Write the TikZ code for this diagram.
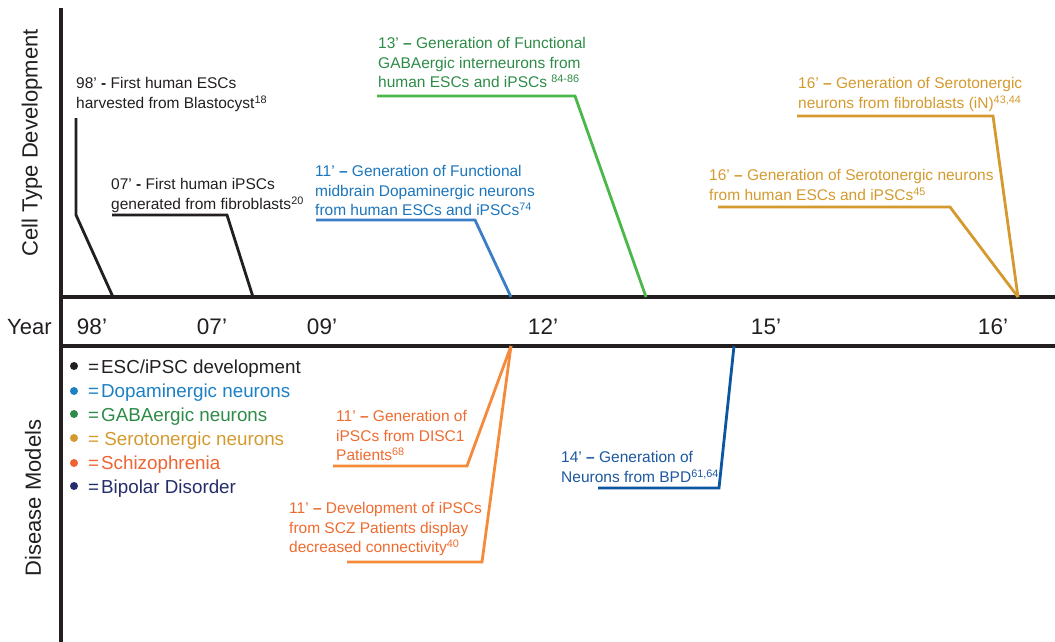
\documentclass[tikz,border=0pt]{standalone}
\usepackage{fontspec}
\setmainfont{Liberation Sans}
\definecolor{cblack}{HTML}{231F20}
\definecolor{cbluet}{HTML}{1B75BB}
\definecolor{cbluel}{HTML}{3B7EC5}
\definecolor{cgreent}{HTML}{2E8B47}
\definecolor{cgreenl}{HTML}{4CB749}
\definecolor{cgold}{HTML}{D49A2F}
\definecolor{corangt}{HTML}{EE6B2F}
\definecolor{corangl}{HTML}{F58A3A}
\definecolor{cbpdt}{HTML}{1C58A0}
\definecolor{cbpdl}{HTML}{0A56A3}
\definecolor{cbip}{HTML}{252C6A}
\definecolor{cschz}{HTML}{EE6432}
\definecolor{cdopa}{HTML}{1C80C4}
\begin{document}
\begin{tikzpicture}[x=1pt,y=-1pt,
  note/.style={anchor=north west,inner sep=0pt,align=left,font=\fontsize{15.5}{19.3}\selectfont},
  axis/.style={line width=4pt,color=cblack},
  lead/.style={line width=2.8pt,line join=miter},
  yearlab/.style={anchor=base,inner sep=0pt,font=\fontsize{22.5}{24}\selectfont,text=cblack},
  sidelab/.style={rotate=90,inner sep=0pt,font=\fontsize{22}{24}\selectfont,text=cblack},
  legtxt/.style={anchor=base west,inner sep=0pt,font=\fontsize{18.8}{22}\selectfont},
  legdot/.style={circle,fill,inner sep=0pt,minimum size=8pt}]
\useasboundingbox (0,0) rectangle (1055,642);
% axes
\coordinate (vtop) at (61,8);
\coordinate (vbot) at (61,642);
\coordinate (h1l) at (61,297);
\coordinate (h1r) at (1055,297);
\coordinate (h2l) at (61,346);
\coordinate (h2r) at (1055,346);
\draw[axis] (vtop) -- (vbot);
\draw[axis] (h1l) -- (h1r);
\draw[axis] (h2l) -- (h2r);
% side labels
\node[sidelab] (lct) at (32,143) {Cell Type Development};
\node[sidelab] (ldm) at (33,498) {Disease Models};
\node[anchor=base west,inner sep=0pt,font=\fontsize{22}{24}\selectfont,text=cblack] (lyear) at (7,334) {Year};
% years
\node[yearlab] (y98) at (92,334) {98’};
\node[yearlab] (y07) at (212,334) {07’};
\node[yearlab] (y09) at (322,334) {09’};
\node[yearlab] (y12) at (543,334) {12’};
\node[yearlab] (y15) at (766,334) {15’};
\node[yearlab] (y16) at (993,334) {16’};
% top notes
\node[note,text=cblack] (n1) at (76,77.5) {98’ \textbf{-} First human ESCs\\harvested from Blastocyst\textsuperscript{18}};
\node[note,text=cblack] (n2) at (111,178.5) {07’ \textbf{-} First human iPSCs\\generated from fibroblasts\textsuperscript{20}};
\node[note,text=cbluet] (n3) at (315,165.5) {11’ \textbf{--} Generation of Functional\\midbrain Dopaminergic neurons\\from human ESCs and iPSCs\textsuperscript{74}};
\node[note,text=cgreent] (n4) at (378,37.5) {13’ \textbf{--} Generation of Functional\\GABAergic interneurons from\\human ESCs and iPSCs \textsuperscript{84-86}};
\node[note,text=cgold] (n5) at (798,77.5) {16’ \textbf{--} Generation of Serotonergic\\neurons from fibroblasts (iN)\textsuperscript{43,44}};
\node[note,text=cgold] (n6) at (709,169.5) {16’ \textbf{--} Generation of Serotonergic neurons\\from human ESCs and iPSCs\textsuperscript{45}};
% bottom notes
\node[note,text=corangt] (n7) at (336,410.5) {11’ \textbf{--} Generation of\\iPSCs from DISC1\\Patients\textsuperscript{68}};
\node[note,text=corangt] (n8) at (289,502.5) {11’ \textbf{--} Development of iPSCs\\from SCZ Patients display\\decreased connectivity\textsuperscript{40}};
\node[note,text=cbpdt] (n9) at (561,451.5) {14’ \textbf{--} Generation of\\Neurons from BPD\textsuperscript{61,64}};
% leader coordinates
\coordinate (a1) at (76,118);  \coordinate (b1) at (76,215);  \coordinate (t1) at (113,297);
\coordinate (a2) at (112,215); \coordinate (b2) at (227,215); \coordinate (t2) at (253,297);
\coordinate (a3) at (316,220); \coordinate (b3) at (475,220); \coordinate (t3) at (511,297);
\coordinate (a4) at (377,96);  \coordinate (b4) at (575,96);  \coordinate (t4) at (646,297);
\coordinate (a5) at (797,116); \coordinate (b5) at (993,116); \coordinate (t5) at (1018,297);
\coordinate (a6) at (718,207); \coordinate (b6) at (950,207);
\coordinate (a7) at (333,466); \coordinate (b7) at (467,466); \coordinate (t7) at (511,346);
\coordinate (a8) at (347,562); \coordinate (b8) at (482,562);
\coordinate (a9) at (598,488); \coordinate (b9) at (719,488); \coordinate (t9) at (734,346);
\draw[lead,cblack] (a1) -- (b1) -- (t1);
\draw[lead,cblack] (a2) -- (b2) -- (t2);
\draw[lead,cbluel] (a3) -- (b3) -- (t3);
\draw[lead,cgreenl] (a4) -- (b4) -- (t4);
\draw[lead,cgold] (a5) -- (b5) -- (t5);
\draw[lead,cgold] (a6) -- (b6) -- (t5);
\draw[lead,corangl] (a7) -- (b7) -- (t7);
\draw[lead,corangl] (a8) -- (b8) -- (t7);
\draw[lead,cbpdl] (a9) -- (b9) -- (t9);
% legend
\node[legdot,cblack] (d1) at (74,366) {};
\node[legdot,cdopa] (d2) at (74,391) {};
\node[legdot,cgreent] (d3) at (74,414) {};
\node[legdot,cgold] (d4) at (74,438) {};
\node[legdot,cschz] (d5) at (74,463) {};
\node[legdot,cbip] (d6) at (74,486) {};
\node[legtxt,text=cblack] (e1) at (88,373.5) {=\hspace{2pt}ESC/iPSC development};
\node[legtxt,text=cdopa] (e2) at (88,397.5) {=\hspace{2pt}Dopaminergic neurons};
\node[legtxt,text=cgreent] (e3) at (88,421) {=\hspace{2pt}GABAergic neurons};
\node[legtxt,text=cgold] (e4) at (88,445) {= Serotonergic neurons};
\node[legtxt,text=cschz] (e5) at (88,469.5) {=\hspace{2pt}Schizophrenia};
\node[legtxt,text=cbip] (e6) at (88,493) {=\hspace{2pt}Bipolar Disorder};
\end{tikzpicture}
\end{document}
